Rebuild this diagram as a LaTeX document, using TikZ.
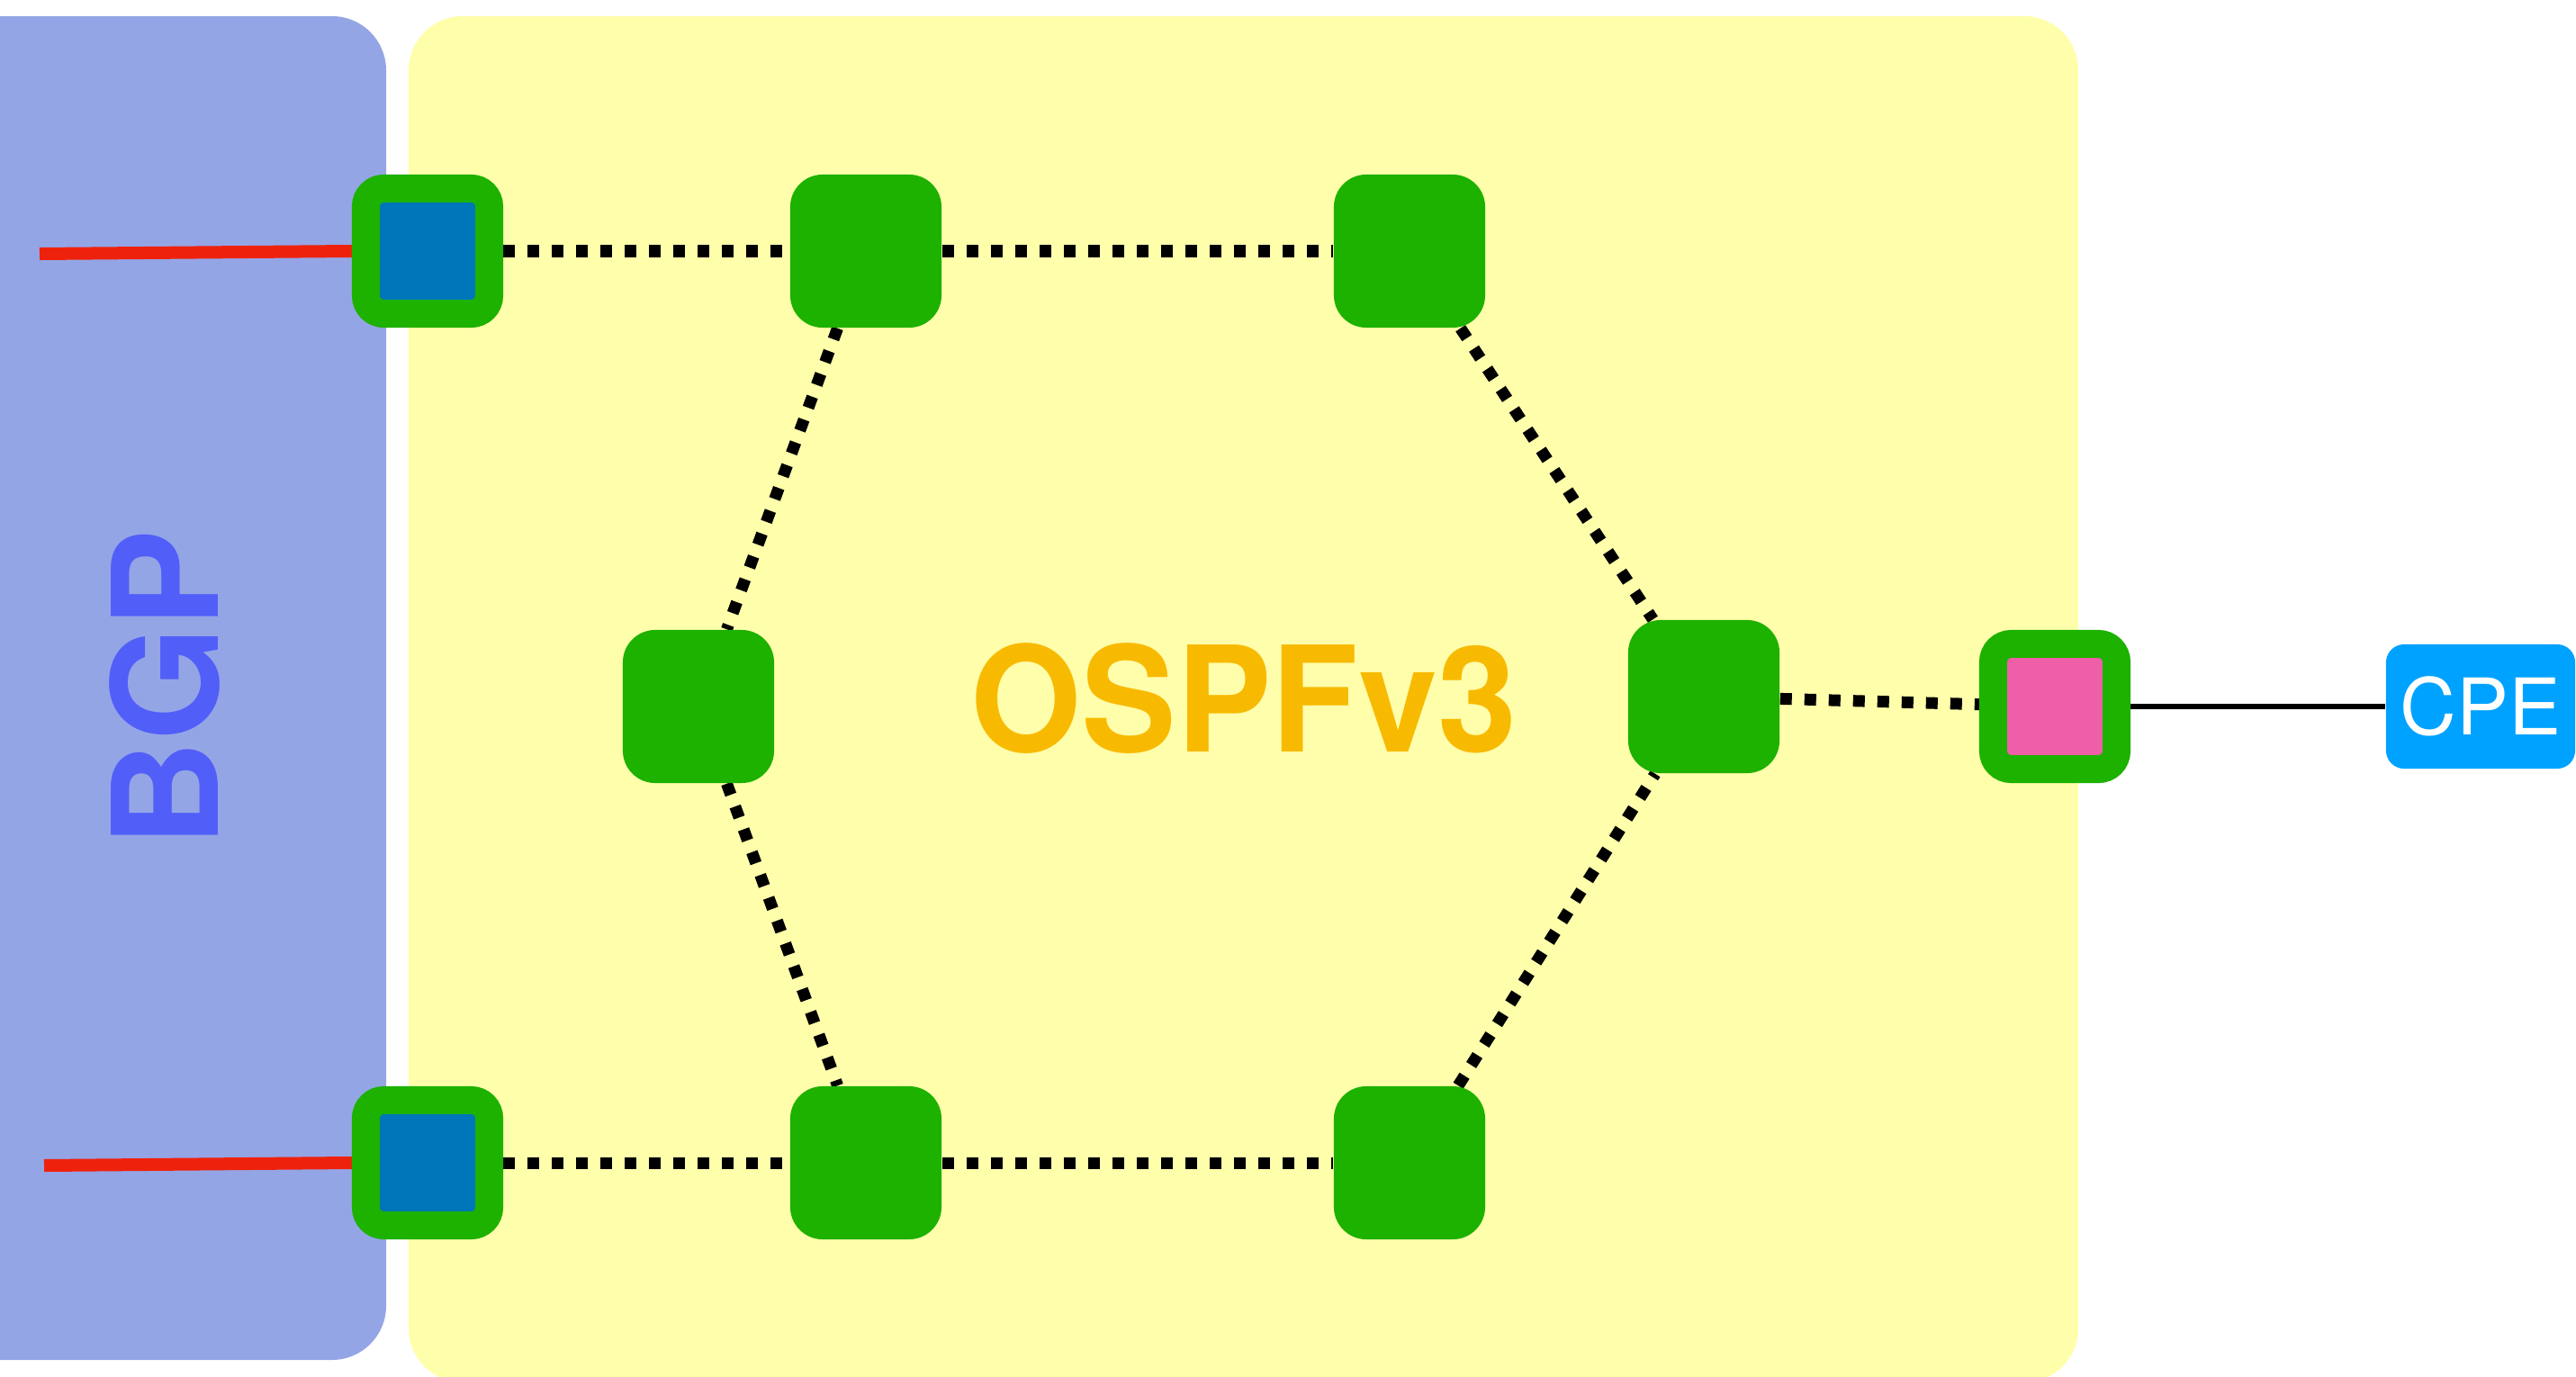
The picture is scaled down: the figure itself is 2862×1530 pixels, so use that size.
\documentclass[tikz,border=0pt]{standalone}
\usepackage{fontspec}
\setmainfont{TeX Gyre Heros}
\definecolor{bgpPanel}{HTML}{94A5E6}
\definecolor{ospfPanel}{HTML}{FFFEAB}
\definecolor{nodeGreen}{HTML}{1DB100}
\definecolor{portBlue}{HTML}{0076BA}
\definecolor{portPink}{HTML}{EF5FA7}
\definecolor{cpeBlue}{HTML}{00A2FF}
\definecolor{linkRed}{HTML}{EE220C}
\definecolor{ospfText}{HTML}{F8BA00}
\definecolor{bgpText}{HTML}{525EF8}
\pgfdeclarelayer{panels}
\pgfdeclarelayer{links}
\pgfsetlayers{panels,links,main}
\begin{document}
\begin{tikzpicture}[x=0.01cm,y=-0.01cm,
  router/.style={rectangle, fill=nodeGreen, rounded corners=0.36cm,
    minimum width=1.68cm, minimum height=1.70cm, inner sep=0pt},
  port/.style={rectangle, draw=nodeGreen, line width=0.31cm, rounded corners=0.2cm,
    minimum width=1.37cm, minimum height=1.39cm, inner sep=0pt},
  ospflink/.style={black, line width=0.13cm, dash pattern=on 0.13cm off 0.14cm},
  bgplink/.style={linkRed, line width=0.14cm},
  area/.style={font=\fontsize{46.4pt}{50pt}\selectfont\bfseries, inner sep=0pt}]
\useasboundingbox (0,0) rectangle (2862,1530);

% routers of the OSPFv3 ring
\node[port, fill=portBlue] (TL) at (475,279) {};
\node[port, fill=portBlue] (BL) at (475,1292) {};
\node[router] (T1) at (962,279) {};
\node[router] (T2) at (1566,279) {};
\node[router] (LM) at (776,785) {};
\node[router] (RM) at (1893,774) {};
\node[router] (B1) at (962,1292) {};
\node[router] (B2) at (1566,1292) {};
\node[port, fill=portPink] (PE) at (2283,785) {};
\node[rectangle, fill=cpeBlue, rounded corners=0.2cm, minimum width=2.10cm,
  minimum height=1.38cm, inner sep=0pt, text=white,
  font=\fontsize{24.7pt}{28pt}\selectfont] (CPE) at (2756,785) {CPE};

% upstream ends of the BGP links
\coordinate (upA) at (44,282);
\coordinate (upB) at (49,1295);

\begin{pgfonlayer}{panels}
  \fill[bgpPanel, rounded corners=0.6cm] (-100,18) rectangle (429,1511);
  \fill[ospfPanel, rounded corners=0.6cm] (454,18) rectangle (2309,1536);
  \node[area, text=bgpText, rotate=90] (bgp) at (183,765) {BGP};
  \node[area, text=ospfText, xscale=0.97] (ospf) at (1382,776) {OSPFv3};
\end{pgfonlayer}

\begin{pgfonlayer}{links}
  \draw[bgplink] (upA) -- (TL.west);
  \draw[bgplink] (upB) -- (BL.west);
  \draw[ospflink] (TL) -- (T1);
  \draw[ospflink] (T1) -- (T2);
  \draw[ospflink] (T1) -- (LM);
  \draw[ospflink] (T2) -- (RM);
  \draw[ospflink] (LM) -- (B1);
  \draw[ospflink] (BL) -- (B1);
  \draw[ospflink] (B1) -- (B2);
  \draw[ospflink] (B2) -- (RM);
  \draw[ospflink] (RM) -- (PE);
  \draw[black, line width=0.06cm] (PE) -- (CPE);
\end{pgfonlayer}
\end{tikzpicture}
\end{document}
